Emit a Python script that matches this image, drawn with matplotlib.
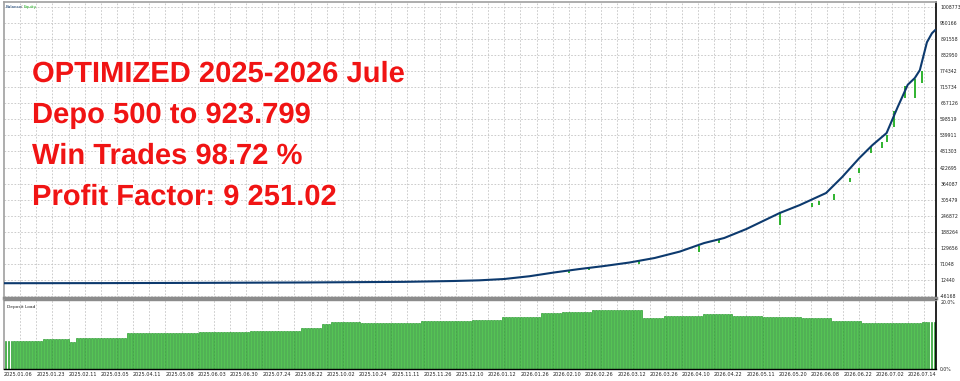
import numpy as np
import matplotlib
matplotlib.use("Agg")
import matplotlib.pyplot as plt
import matplotlib.patheffects as pe

# balance curve (trade number, account balance)
bal_trade = [0, 99, 198, 298, 397, 446, 471, 496, 521, 546, 570, 595, 620, 645,
             670, 694, 714, 736, 769, 789, 815, 831, 848, 861, 875, 886, 896,
             903, 908, 915, 920, 923]
bal_value = [500, 900, 1800, 3200, 5500, 8600, 11000, 15900, 26000, 40000, 52000,
             63300, 76000, 92500, 116000, 147000, 165500, 198300, 256700, 285900,
             329700, 388100, 457400, 504800, 548600, 643500, 725000, 749600,
             778500, 880000, 913000, 923799]

# equity drawdown spikes (trade, equity low, balance at that moment)
dip_trade = [560, 580, 630, 689, 709, 769, 801, 808, 823, 839, 848, 860, 870,
             875, 882, 893, 903, 910]
dip_low = [37800, 48700, 70600, 114400, 147200, 213000, 278600, 286000, 304100,
           369800, 402600, 475600, 494000, 515800, 570600, 676300, 676300, 731000]
dip_high = [46000, 55000, 80000, 135000, 163000, 256700, 295000, 300000, 325000,
            385000, 420000, 500000, 515000, 540000, 630000, 720000, 745000, 775000]

# deposit load (%), stepwise levels and how many bars each level lasts
load_level = [8.1, 8.0, 8.7, 7.8, 9.0, 10.4, 10.4, 10.7, 10.9, 11.9, 13.0, 13.6,
              13.3, 13.8, 14.3, 15.1, 16.2, 16.4, 17.2, 17.1, 14.8, 15.4, 15.9,
              15.4, 15.1, 14.8, 13.9, 13.3, 13.6]
load_count = [12, 1, 9, 2, 17, 11, 13, 17, 17, 7, 3, 10, 20, 17, 10, 13, 7, 10,
              7, 10, 7, 13, 10, 10, 13, 10, 10, 20, 5]

y_ticks = [-46168, 12440, 71048, 129656, 188264, 246872, 305479, 364087, 422695,
           481303, 539911, 598519, 657126, 715734, 774342, 832950, 891558,
           950166, 1008773]

date_labels = ["2025.01.06", "2025.01.23", "2025.02.11", "2025.03.05", "2025.04.11",
               "2025.05.08", "2025.06.03", "2025.06.30", "2025.07.24", "2025.08.22",
               "2025.10.02", "2025.10.24", "2025.11.11", "2025.11.26", "2025.12.10",
               "2026.01.12", "2026.01.26", "2026.02.10", "2026.02.26", "2026.03.12",
               "2026.03.26", "2026.04.10", "2026.04.22", "2026.05.11", "2026.05.20",
               "2026.06.08", "2026.06.22", "2026.07.02", "2026.07.14"]

headline = ["OPTIMIZED 2025-2026 Jule",
            "Depo 500 to 923.799",
            "Win Trades 98.72 %",
            "Profit Factor: 9 251.02"]

N_TRADES = 924
GRID_STEP = 16

W, H = 960, 381
fig = plt.figure(figsize=(W / 100, H / 100), dpi=100)
fig.patch.set_facecolor("white")

def px_box(left, top, right, bottom):
    return [left / W, 1 - bottom / H, (right - left) / W, (bottom - top) / H]

ax = fig.add_axes(px_box(4, 2, 936, 298))
ax2 = fig.add_axes(px_box(4, 300, 936, 369))

grid_kw = dict(color="#c4c4c4", linestyle=(0, (2, 2)), linewidth=0.6)
vgrid = np.arange(0, N_TRADES, GRID_STEP)

# --- balance / equity panel
ax.set_xlim(0, N_TRADES)
ax.set_ylim(-53466, 1027018)
for g in vgrid[1:]:
    ax.axvline(g, zorder=0, **grid_kw)
for t in y_ticks:
    ax.axhline(t, zorder=0, **grid_kw)
ax.vlines(dip_trade, dip_low, dip_high, color="#1fae1f", linewidth=1.3, zorder=2)
ax.plot(bal_trade, bal_value, color="#0d3a6e", linewidth=1.5, zorder=3)

ax.yaxis.tick_right()
ax.set_yticks(y_ticks)
ax.set_yticklabels([str(v) for v in y_ticks], fontsize=3.3, color="#222222")
ax.tick_params(axis="y", length=0, pad=3)
ax.set_xticks([])
for s in ["top", "left"]:
    ax.spines[s].set_color("#a0a0a0")
    ax.spines[s].set_linewidth(1.2)
ax.spines["right"].set_color("black")
ax.spines["right"].set_linewidth(1.2)
ax.spines["bottom"].set_color("#8c8c8c")
ax.spines["bottom"].set_linewidth(2.5)

fig.text(6 / W, 1 - 7 / H, "Balance", fontsize=3.0, color="#0d3a6e", va="center")
fig.text(21 / W, 1 - 7 / H, "/", fontsize=3.0, color="#555555", va="center")
fig.text(24 / W, 1 - 7 / H, "Equity", fontsize=3.0, color="#1fae1f", va="center")

for i, line in enumerate(headline):
    ax.text(28 / 932, 1 - (82 + 41 * i - 2) / 296, line, transform=ax.transAxes,
            fontsize=21, fontweight="bold", family="Liberation Sans",
            color="#f01414", va="baseline", ha="left", zorder=5,
            path_effects=[pe.withStroke(linewidth=2.5, foreground="white")])

# --- deposit load panel
loads = np.repeat(load_level, load_count)
step = N_TRADES / len(loads)
bar_x = (np.arange(len(loads)) + 0.5) * step
ax2.set_xlim(0, N_TRADES)
ax2.set_ylim(0, 20)
for g in vgrid[1:]:
    ax2.axvline(g, zorder=0, **grid_kw)
ax2.bar(bar_x, loads, width=step * 0.66, color="#55c455", edgecolor="#0c8c12",
        linewidth=0.4, zorder=2)
ax2.yaxis.tick_right()
ax2.set_yticks([0, 19.3])
ax2.set_yticklabels(["0.0%", "20.0%"], fontsize=3.3, color="#222222")
ax2.tick_params(axis="y", length=0, pad=3)
label_pos = vgrid[::2][:len(date_labels)]
ax2.set_xticks(label_pos)
ax2.set_xticklabels(date_labels, fontsize=3.6, color="#222222", ha="left")
ax2.tick_params(axis="x", length=0, pad=2)
ax2.spines["top"].set_color("#8c8c8c")
ax2.spines["top"].set_linewidth(1.0)
ax2.spines["left"].set_color("#a0a0a0")
ax2.spines["left"].set_linewidth(1.2)
ax2.spines["right"].set_color("black")
ax2.spines["right"].set_linewidth(1.2)
ax2.spines["bottom"].set_color("black")
ax2.spines["bottom"].set_linewidth(1.0)
ax2.text(0.003, 0.93, "Deposit Load", transform=ax2.transAxes, fontsize=3.2,
         color="#222222", va="top")

fig.savefig("out.png", dpi=100)
